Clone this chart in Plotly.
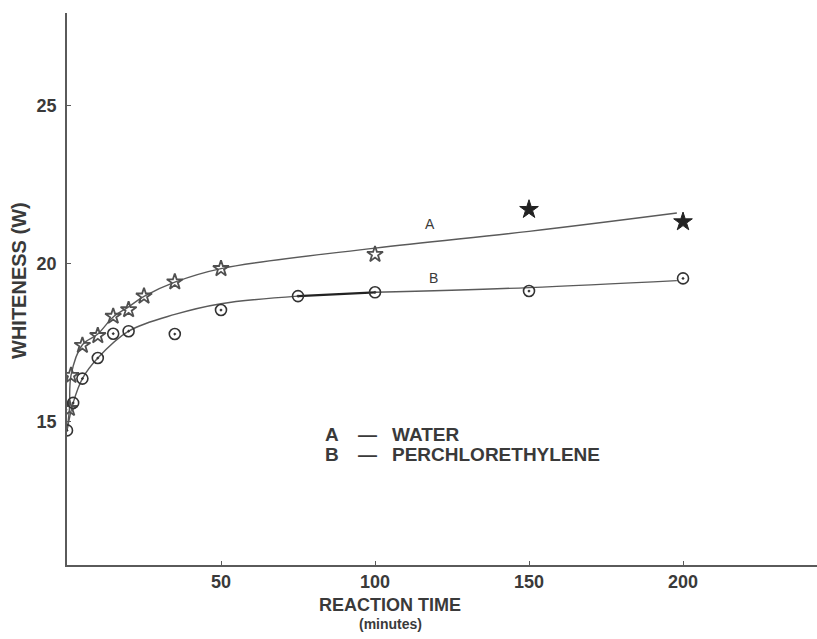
import plotly.graph_objects as go

# ---- data ----
# Series A (water): star markers
a_time = [0.8, 1.3, 5, 10, 15, 20, 25, 35, 50, 100]
a_white = [15.4, 16.45, 17.40, 17.71, 18.32, 18.53, 18.96, 19.41, 19.83, 20.28]
a_time_dark = [150, 200]
a_white_dark = [21.70, 21.31]

# Series B (perchlorethylene): circle-dot markers
b_time = [0, 2, 5, 10, 15, 20, 35, 50, 75, 100, 150, 200]
b_white = [14.71, 15.58, 16.35, 17.00, 17.77, 17.85, 17.76, 18.52, 18.96, 19.08, 19.12, 19.52]

# Hand-drawn fitted curves (sampled along the drawn lines)
a_curve_t = [0, 0.8, 1.3, 5, 10, 15, 20, 25, 35, 50, 100, 150, 198]
a_curve_w = [14.7, 15.4, 16.45, 17.42, 17.76, 18.3, 18.62, 18.95, 19.40, 19.83, 20.48, 21.01, 21.59]
b_curve_t = [0, 2, 5, 10, 20, 35, 50, 75]
b_curve_w = [14.7, 15.58, 16.35, 17.0, 17.85, 18.38, 18.72, 18.96]
b_dark_t = [75, 100]
b_dark_w = [18.96, 19.08]
b_tail_t = [100, 150, 198]
b_tail_w = [19.08, 19.23, 19.45]

x_ticks = [50, 100, 150, 200]
y_ticks = [15, 20, 25]

LINE = "#5a5a5a"
INK = "#3a3a3a"
FONT = "Liberation Sans"

fig = go.Figure()

for t, w in [(a_curve_t, a_curve_w), (b_curve_t, b_curve_w), (b_tail_t, b_tail_w)]:
    fig.add_trace(go.Scatter(x=t, y=w, mode="lines",
                             line=dict(color=LINE, width=1.4, shape="spline", smoothing=1.0),
                             hoverinfo="skip", showlegend=False))
fig.add_trace(go.Scatter(x=b_dark_t, y=b_dark_w, mode="lines",
                         line=dict(color="#222222", width=2.2),
                         hoverinfo="skip", showlegend=False))

fig.add_trace(go.Scatter(x=a_time, y=a_white, mode="markers", name="A - WATER",
                         marker=dict(symbol="star-open", size=12, color="#505050",
                                     line=dict(width=1.8, color="#505050")),
                         showlegend=False))
fig.add_trace(go.Scatter(x=a_time_dark, y=a_white_dark, mode="markers", name="A - WATER",
                         marker=dict(symbol="star", size=14, color="#222222",
                                     line=dict(width=1, color="#222222")),
                         showlegend=False))
fig.add_trace(go.Scatter(x=b_time, y=b_white, mode="markers", name="B - PERCHLORETHYLENE",
                         marker=dict(symbol="circle-open-dot", size=11, color="#333333",
                                     line=dict(width=1.6, color="#333333")),
                         showlegend=False))

ann = []
def txt(x, y, s, size, xanchor="center", xref="x", yref="y", **kw):
    ann.append(dict(x=x, y=y, xref=xref, yref=yref, text=s, showarrow=False,
                    xanchor=xanchor, yanchor="middle",
                    font=dict(family=FONT, size=size, color=INK, weight="bold"), **kw))

# curve labels
ann.append(dict(x=117.9, y=21.23, text="A", showarrow=False, xanchor="center", yanchor="middle",
                font=dict(family=FONT, size=14, color=INK)))
ann.append(dict(x=118.9, y=19.52, text="B", showarrow=False, xanchor="center", yanchor="middle",
                font=dict(family=FONT, size=14, color=INK)))
# key
txt(83.1, 14.59, "A", 19, xanchor="left")
txt(97.4, 14.59, "—", 19)
txt(104.9, 14.59, "WATER", 19, xanchor="left")
txt(83.1, 13.96, "B", 19, xanchor="left")
txt(97.4, 13.96, "—", 19)
txt(104.9, 13.96, "PERCHLORETHYLENE", 19, xanchor="left")
# axis titles
txt(0.431, -0.072, "REACTION TIME", 18, xref="paper", yref="paper")
txt(0.431, -0.107, "(minutes)", 14, xref="paper", yref="paper")
txt(-0.065, 0.515, "WHITENESS (W)", 20, xref="paper", yref="paper", textangle=-90)

fig.update_layout(
    width=817, height=639,
    margin=dict(l=67, r=0, t=13, b=74),
    paper_bgcolor="white", plot_bgcolor="white",
    annotations=ann,
    xaxis=dict(range=[0, 243.5], tickvals=x_ticks, ticktext=[str(v) for v in x_ticks],
               showgrid=False, zeroline=False, showline=True, linecolor=LINE, linewidth=1.6,
               ticks="inside", ticklen=4, tickcolor=LINE, ticklabelstandoff=0,
               tickfont=dict(family=FONT, size=18, color=INK, weight="bold")),
    yaxis=dict(range=[10.45, 27.92], tickvals=y_ticks, ticktext=[str(v) for v in y_ticks],
               showgrid=False, zeroline=False, showline=True, linecolor=LINE, linewidth=1.6,
               ticks="inside", ticklen=4, tickcolor=LINE, ticklabelstandoff=5,
               tickfont=dict(family=FONT, size=18, color=INK, weight="bold")),
)

fig.write_html("out.html", config={"displayModeBar": False},
               post_script="document.body.style.margin='0';document.body.style.overflow='hidden';")
